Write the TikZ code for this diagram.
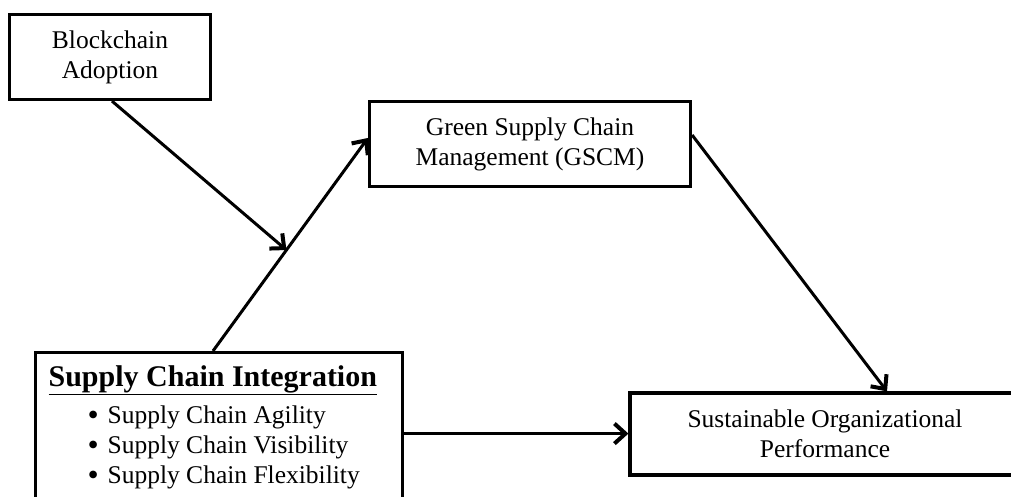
\documentclass[tikz,border=0pt]{standalone}
\usepackage{fontspec}
\setmainfont{Liberation Serif}
\usepackage{tikz}
\usetikzlibrary{arrows.meta, positioning, calc}
\tikzset{
  varbox/.style={
    rectangle, draw=black, line width=3.2pt, fill=white,
    align=center, inner sep=0pt,
    font=\fontsize{25.5}{30}\selectfont,
  },
  patharrow/.style={-{Straight Barb[length=11pt, width=20pt, line width=4pt]}, line width=3pt},
  every picture/.append style={x=1pt, y=1pt},
}
\newcommand{\bigdot}{\smash{\raisebox{-1.5pt}{\scalebox{1.25}{\textbullet}}}}

\begin{document}
\begin{tikzpicture}
  \useasboundingbox (0,0) rectangle (1011,497);
  \clip (0,0) rectangle (1011,497);

  % ---- Boites ----
  \node[varbox, minimum width=201pt, minimum height=85pt] (blk) at (110,440) {Blockchain\\Adoption};
  \node[varbox, minimum width=321pt, minimum height=85pt] (gscm) at (530,353) {Green Supply Chain\\Management (GSCM)};
  \node[varbox, minimum width=390pt, minimum height=82pt] (sop) at (825,63) {Sustainable Organizational\\Performance};
  \node[varbox, anchor=north west, align=left] (sci) at (34,146) {%
    \begin{minipage}[c][162pt][t]{367pt}
      \fontsize{25.5}{30}\selectfont
      \rule{0pt}{34pt}\hspace*{13pt}{\bfseries\fontsize{30}{34}\selectfont\underline{Supply Chain Integration}}\par
      \vspace{7pt}
      \hspace*{52pt}\makebox[20pt][l]{\bigdot}Supply Chain Agility\par
      \hspace*{52pt}\makebox[20pt][l]{\bigdot}Supply Chain Visibility\par
      \hspace*{52pt}\makebox[20pt][l]{\bigdot}Supply Chain Flexibility\par
    \end{minipage}};

  % ---- Points d'appui ----
  \coordinate (sciout) at ([xshift=179pt]sci.north west);
  \coordinate (gscmin) at ([yshift=6pt]gscm.west);
  \coordinate (joint) at ($(sciout)!0.474!(gscmin)$);

  % ---- Fleches ----
  \draw[patharrow] (sciout) -- (gscmin);
  \draw[patharrow] ([xshift=2pt]blk.south) -- (joint);
  \draw[patharrow] ([yshift=9pt]gscm.east) -- ([xshift=62pt]sop.north);
  \draw[patharrow] (sci.east) -- (sci.east -| sop.west);
\end{tikzpicture}
\end{document}
